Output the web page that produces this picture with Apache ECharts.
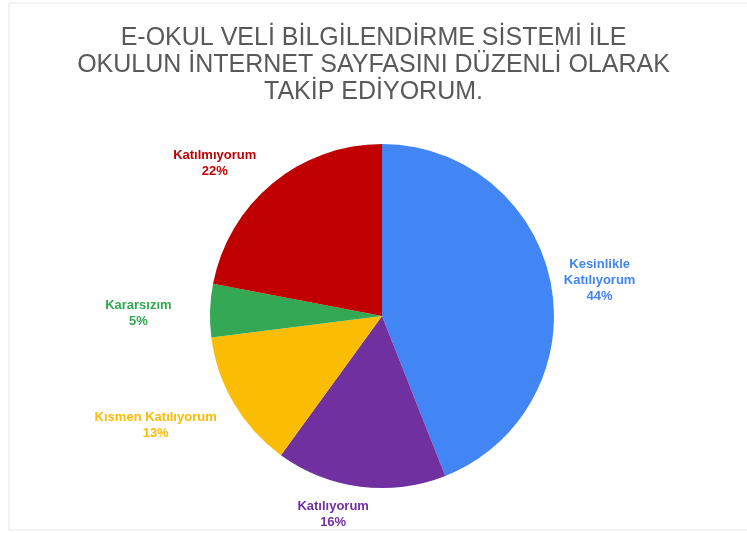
<!DOCTYPE html>
<html><head><meta charset="utf-8">
<script src="https://cdn.jsdelivr.net/npm/echarts@6/dist/echarts.min.js"></script>
<style>html,body{margin:0;padding:0;background:#fff}#c{width:747px;height:533px}</style>
</head><body><div id="c"></div>
<script>
const titleText = "E-OKUL VELİ BİLGİLENDİRME SİSTEMİ İLE\nOKULUN İNTERNET SAYFASINI DÜZENLİ OLARAK\nTAKİP EDİYORUM.";
const categories = ["Kesinlikle\nKatılıyorum", "Katılıyorum", "Kısmen Katılıyorum", "Kararsızım", "Katılmıyorum"];
const values = [44, 16, 13, 5, 22];
const colors = ["#4285F4", "#7030A0", "#FBBC04", "#34A853", "#C00000"];

const total = values.reduce((a, b) => a + b, 0);
const midAngles = [];
{ let acc = 0; values.forEach(v => { const mid = 90 - (acc + v / 2) / total * 360; midAngles.push(mid * Math.PI / 180); acc += v; }); }

// label placement style (best-fit style nudges, in px)
const CX = 382, CY = 316, R = 172, GAP = 14;
const labelNudge = [[-4, 7], [-23, -6], [-14, -16], [-24, 4], [-24, 21]];

const chart = echarts.init(document.getElementById('c'));
chart.setOption({
  animation: false,
  graphic: [
    {type:'rect', shape:{x:9, y:3, width:745, height:527}, style:{fill:'none', stroke:'#e6e6e6', lineWidth:1}, silent:true}
  ],
  title: {
    text: titleText, left: 'center', top: 20,
    textStyle: {fontFamily: 'Liberation Sans, Arial', fontWeight: 'normal', fontSize: 25, color: '#595959', lineHeight: 27}
  },
  series: [{
    type: 'pie',
    center: [CX, CY], radius: R,
    startAngle: 90, clockwise: true,
    avoidLabelOverlap: false,
    data: categories.map((n, i) => ({name: n, value: values[i], itemStyle: {color: colors[i]}, label: {color: colors[i]}})),
    label: {
      show: true, position: 'outside',
      formatter: p => p.name + '\n' + p.value + '%',
      fontFamily: 'Liberation Sans, Arial', fontWeight: 'bold', fontSize: 13, lineHeight: 16
    },
    labelLine: {show: false, length: 10, length2: 0},
    labelLayout: function (params) {
      const i = params.dataIndex;
      const a = midAngles[i];
      const w = params.labelRect.width, h = params.labelRect.height;
      const c = Math.cos(a), s = Math.sin(a);
      const d = R + GAP + Math.abs(c) * w / 2 + Math.abs(s) * h / 2;
      return {
        x: CX + c * d + labelNudge[i][0],
        y: CY - s * d + labelNudge[i][1],
        align: 'center', verticalAlign: 'middle'
      };
    }
  }]
});
</script></body></html>
